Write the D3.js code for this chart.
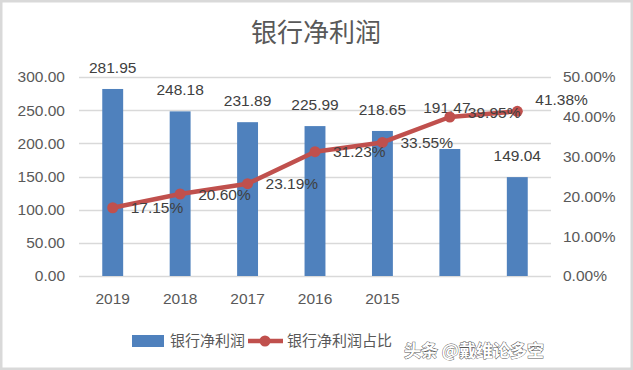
<!DOCTYPE html>
<html>
<head>
<meta charset="utf-8">
<script src="https://cdn.jsdelivr.net/npm/d3@7"></script>
<style>
  body { margin: 0; background: #fff; }
  svg { display: block; }
  text { font-family: "Liberation Sans", Arial, sans-serif; }
  .cjk { font-family: "Noto Sans CJK SC", sans-serif; }
</style>
</head>
<body>
<svg id="chart"></svg>
<script>
// data
const categories = [ '2019', '2018', '2017', '2016', '2015', '', ' ' ];
const profit = [ 281.95, 248.18, 231.89, 225.99, 218.65, 191.47, 149.04 ];
const share = [ 17.15, 20.60, 23.19, 31.23, 33.55, 39.95, 41.38 ];
const leftTicks = [ 0, 50, 100, 150, 200, 250, 300 ];
const rightTicks = [ 0, 10, 20, 30, 40, 50 ];

const width = 633, height = 370;
const margin = { top: 77, right: 82, bottom: 94, left: 79 };
const inner_width = width - margin.left - margin.right;
const inner_height = height - margin.top - margin.bottom;

const text_color = '#595959';
const bar_color = '#4f81bd';
const line_color = '#c0504d';
const num_size = 15.5;

const svg = d3.select( '#chart' )
    .attr( 'width', width )
    .attr( 'height', height );

svg.append( 'rect' )
    .attr( 'x', 1 ).attr( 'y', 1 )
    .attr( 'width', width - 2 ).attr( 'height', height - 2 )
    .attr( 'fill', '#fff' )
    .attr( 'stroke', '#d9d9d9' )
    .attr( 'stroke-width', 3 );

svg.append( 'text' )
    .attr( 'class', 'cjk' )
    .attr( 'x', 316 ).attr( 'y', 42 )
    .attr( 'text-anchor', 'middle' )
    .attr( 'font-size', 26 )
    .attr( 'fill', text_color )
    .text( '银行净利润' );

const chart = svg.append( 'g' )
    .attr( 'transform', `translate(${margin.left}, ${margin.top})` );

const xscale = d3.scaleBand()
    .domain( categories )
    .range( [ 0, inner_width ] )
    .paddingInner( 0.69 )
    .paddingOuter( 0.345 );

const yscale = d3.scaleLinear()
    .domain( [ 0, 300 ] )
    .range( [ inner_height, 0 ] );

const y2scale = d3.scaleLinear()
    .domain( [ 0, 50 ] )
    .range( [ inner_height, 0 ] );

// gridlines
chart.append( 'g' )
    .selectAll( 'line' )
    .data( leftTicks )
    .join( 'line' )
    .attr( 'x1', 0 ).attr( 'x2', inner_width )
    .attr( 'y1', d => Math.round( yscale( d ) ) + 0.5 )
    .attr( 'y2', d => Math.round( yscale( d ) ) + 0.5 )
    .attr( 'stroke', '#d9d9d9' )
    .attr( 'stroke-width', 1.3 );

// axes
const yaxis = chart.append( 'g' )
    .call( d3.axisLeft( yscale ).tickValues( leftTicks ).tickSize( 0 ).tickPadding( 14 ).tickFormat( d3.format( '.2f' ) ) );
const y2axis = chart.append( 'g' )
    .attr( 'transform', `translate(${inner_width}, 0)` )
    .call( d3.axisRight( y2scale ).tickValues( rightTicks ).tickSize( 0 ).tickPadding( 12 ).tickFormat( d => d.toFixed( 2 ) + '%' ) );
const xaxis = chart.append( 'g' )
    .attr( 'transform', `translate(0, ${inner_height})` )
    .call( d3.axisBottom( xscale ).tickSize( 0 ).tickPadding( 17 ) );

[ yaxis, y2axis, xaxis ].forEach( g => {
    g.select( '.domain' ).remove();
    g.selectAll( 'text' )
        .attr( 'font-size', num_size )
        .attr( 'fill', text_color )
        .style( 'font-family', '"Liberation Sans", Arial, sans-serif' );
} );

// bars
chart.selectAll( '.bar' )
    .data( profit )
    .join( 'rect' )
    .attr( 'class', 'bar' )
    .attr( 'x', ( d, i ) => xscale( categories[i] ) )
    .attr( 'y', d => yscale( d ) )
    .attr( 'width', xscale.bandwidth() )
    .attr( 'height', d => inner_height - yscale( d ) )
    .attr( 'fill', bar_color );

const cx = i => xscale( categories[i] ) + xscale.bandwidth() / 2;

// bar labels (one moved by hand in the original)
const barNudge = { 5: -20 };
chart.selectAll( '.bar-label' )
    .data( profit )
    .join( 'text' )
    .attr( 'class', 'bar-label' )
    .attr( 'x', ( d, i ) => cx( i ) - ( i === 5 ? 3 : 0 ) )
    .attr( 'y', ( d, i ) => yscale( d ) - 16 + ( barNudge[i] || 0 ) )
    .attr( 'text-anchor', 'middle' )
    .attr( 'font-size', num_size )
    .attr( 'fill', '#404040' )
    .text( d => d.toFixed( 2 ) );

// line
const line = d3.line()
    .x( ( d, i ) => cx( i ) )
    .y( d => y2scale( d ) );

chart.append( 'path' )
    .attr( 'd', line( share ) )
    .attr( 'fill', 'none' )
    .attr( 'stroke', line_color )
    .attr( 'stroke-width', 4.5 )
    .attr( 'stroke-linejoin', 'round' );

chart.selectAll( '.dot' )
    .data( share )
    .join( 'circle' )
    .attr( 'class', 'dot' )
    .attr( 'cx', ( d, i ) => cx( i ) )
    .attr( 'cy', d => y2scale( d ) )
    .attr( 'r', 5.5 )
    .attr( 'fill', line_color );

const lineNudge = { 5: -5, 6: -12 };
chart.selectAll( '.line-label' )
    .data( share )
    .join( 'text' )
    .attr( 'class', 'line-label' )
    .attr( 'x', ( d, i ) => cx( i ) + 18 )
    .attr( 'y', ( d, i ) => y2scale( d ) + ( lineNudge[i] || 0 ) )
    .attr( 'dy', '0.36em' )
    .attr( 'font-size', num_size )
    .attr( 'fill', '#404040' )
    .text( d => d.toFixed( 2 ) + '%' );

// legend
const legend = svg.append( 'g' )
    .attr( 'transform', 'translate(132, 341)' );
legend.append( 'rect' )
    .attr( 'x', 0 ).attr( 'y', -6 )
    .attr( 'width', 32 ).attr( 'height', 12 )
    .attr( 'fill', bar_color );
legend.append( 'text' )
    .attr( 'class', 'cjk' )
    .attr( 'x', 38 ).attr( 'y', 0 ).attr( 'dy', '0.35em' )
    .attr( 'font-size', 15 )
    .attr( 'fill', text_color )
    .text( '银行净利润' );
legend.append( 'line' )
    .attr( 'x1', 116 ).attr( 'x2', 151 )
    .attr( 'y1', 0 ).attr( 'y2', 0 )
    .attr( 'stroke', line_color )
    .attr( 'stroke-width', 4.5 );
legend.append( 'circle' )
    .attr( 'cx', 133 ).attr( 'cy', 0 ).attr( 'r', 5.5 )
    .attr( 'fill', line_color );
legend.append( 'text' )
    .attr( 'class', 'cjk' )
    .attr( 'x', 155 ).attr( 'y', 0 ).attr( 'dy', '0.35em' )
    .attr( 'font-size', 15 )
    .attr( 'fill', text_color )
    .text( '银行净利润占比' );

// watermark
svg.append( 'text' )
    .attr( 'class', 'cjk' )
    .attr( 'x', 404 ).attr( 'y', 357 )
    .attr( 'font-size', 17 )
    .attr( 'font-weight', 'bold' )
    .attr( 'fill', '#fff' )
    .attr( 'stroke', '#555' )
    .attr( 'stroke-width', 0.9 )
    .attr( 'paint-order', 'stroke' )
    .text( '头条 @戴维论多空' );
</script>
</body>
</html>
